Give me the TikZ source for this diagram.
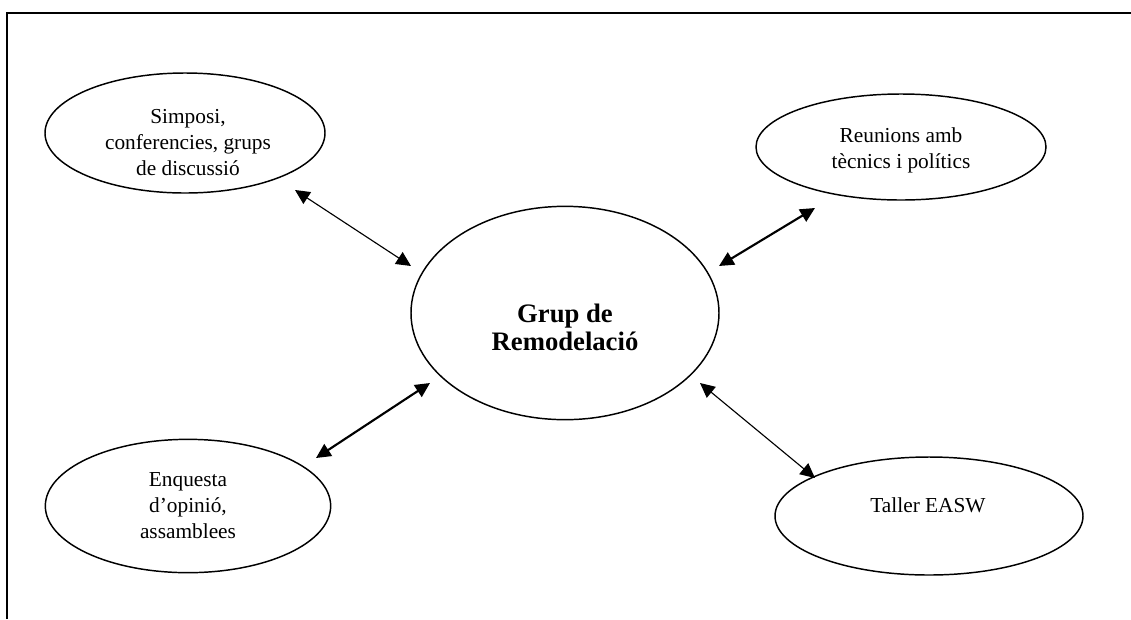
\documentclass[tikz,border=0pt]{standalone}
\usepackage{fontspec}
\setmainfont{Liberation Serif}
\usetikzlibrary{arrows.meta,shapes.geometric}

\tikzset{
  bubble/.style={draw, ellipse, line width=1.1pt, inner sep=0pt},
  bubbletext/.style={anchor=base, align=center, inner sep=0pt,
    font=\fontsize{16}{19.5}\selectfont},
  hubtext/.style={anchor=base, align=center, inner sep=0pt,
    font=\fontsize{20}{21}\selectfont\bfseries},
  link/.style={{Triangle[length=11pt,width=10.5pt]}-{Triangle[length=11pt,width=10.5pt]}},
  thinlink/.style={link, line width=0.85pt},
  thicklink/.style={link, line width=1.6pt},
}

\begin{document}
\begin{tikzpicture}[x=0.75pt,y=-0.75pt]
\useasboundingbox (0,0) rectangle (1131,619);

% open frame: top and left edges only
\draw[line width=1.5pt] (7,619) -- (7,12.5) -- (1131,12.5);

% ellipses
\node[bubble, minimum width=210pt, minimum height=90pt] (simp) at (185,133) {};
\node[bubble, minimum width=217.5pt, minimum height=79.5pt] (reun) at (901,147) {};
\node[bubble, minimum width=231pt, minimum height=160pt] (grup) at (565,313) {};
\node[bubble, minimum width=214pt, minimum height=100pt] (enq) at (188,506) {};
\node[bubble, minimum width=231pt, minimum height=88.5pt] (tall) at (929,516) {};

% labels, placed by the baseline of their last line
\node[bubbletext] (simpt) at (188,175) {Simposi,\\conferencies, grups\\de discussió};
\node[bubbletext] (reunt) at (901,168) {Reunions amb\\tècnics i polítics};
\node[hubtext] (grupt) at (565,350) {Grup de\\Remodelació};
\node[bubbletext] (enqt) at (188,538) {Enquesta\\d’opinió,\\assamblees};
\node[bubbletext] (tallt) at (928,512) {Taller EASW};

% connector ends
\coordinate (simpE) at (295,190);
\coordinate (grupNW) at (411,266);
\coordinate (reunE) at (815,208);
\coordinate (grupNE) at (719,266);
\coordinate (grupSW) at (430,383);
\coordinate (enqE) at (316,458);
\coordinate (grupSE) at (700,383);
\coordinate (tallE) at (815,478);

% two-way links
\draw[thinlink] (simpE) -- (grupNW);
\draw[thicklink] (reunE) -- (grupNE);
\draw[thicklink] (grupSW) -- (enqE);
\draw[thinlink] (grupSE) -- (tallE);
\end{tikzpicture}
\end{document}
